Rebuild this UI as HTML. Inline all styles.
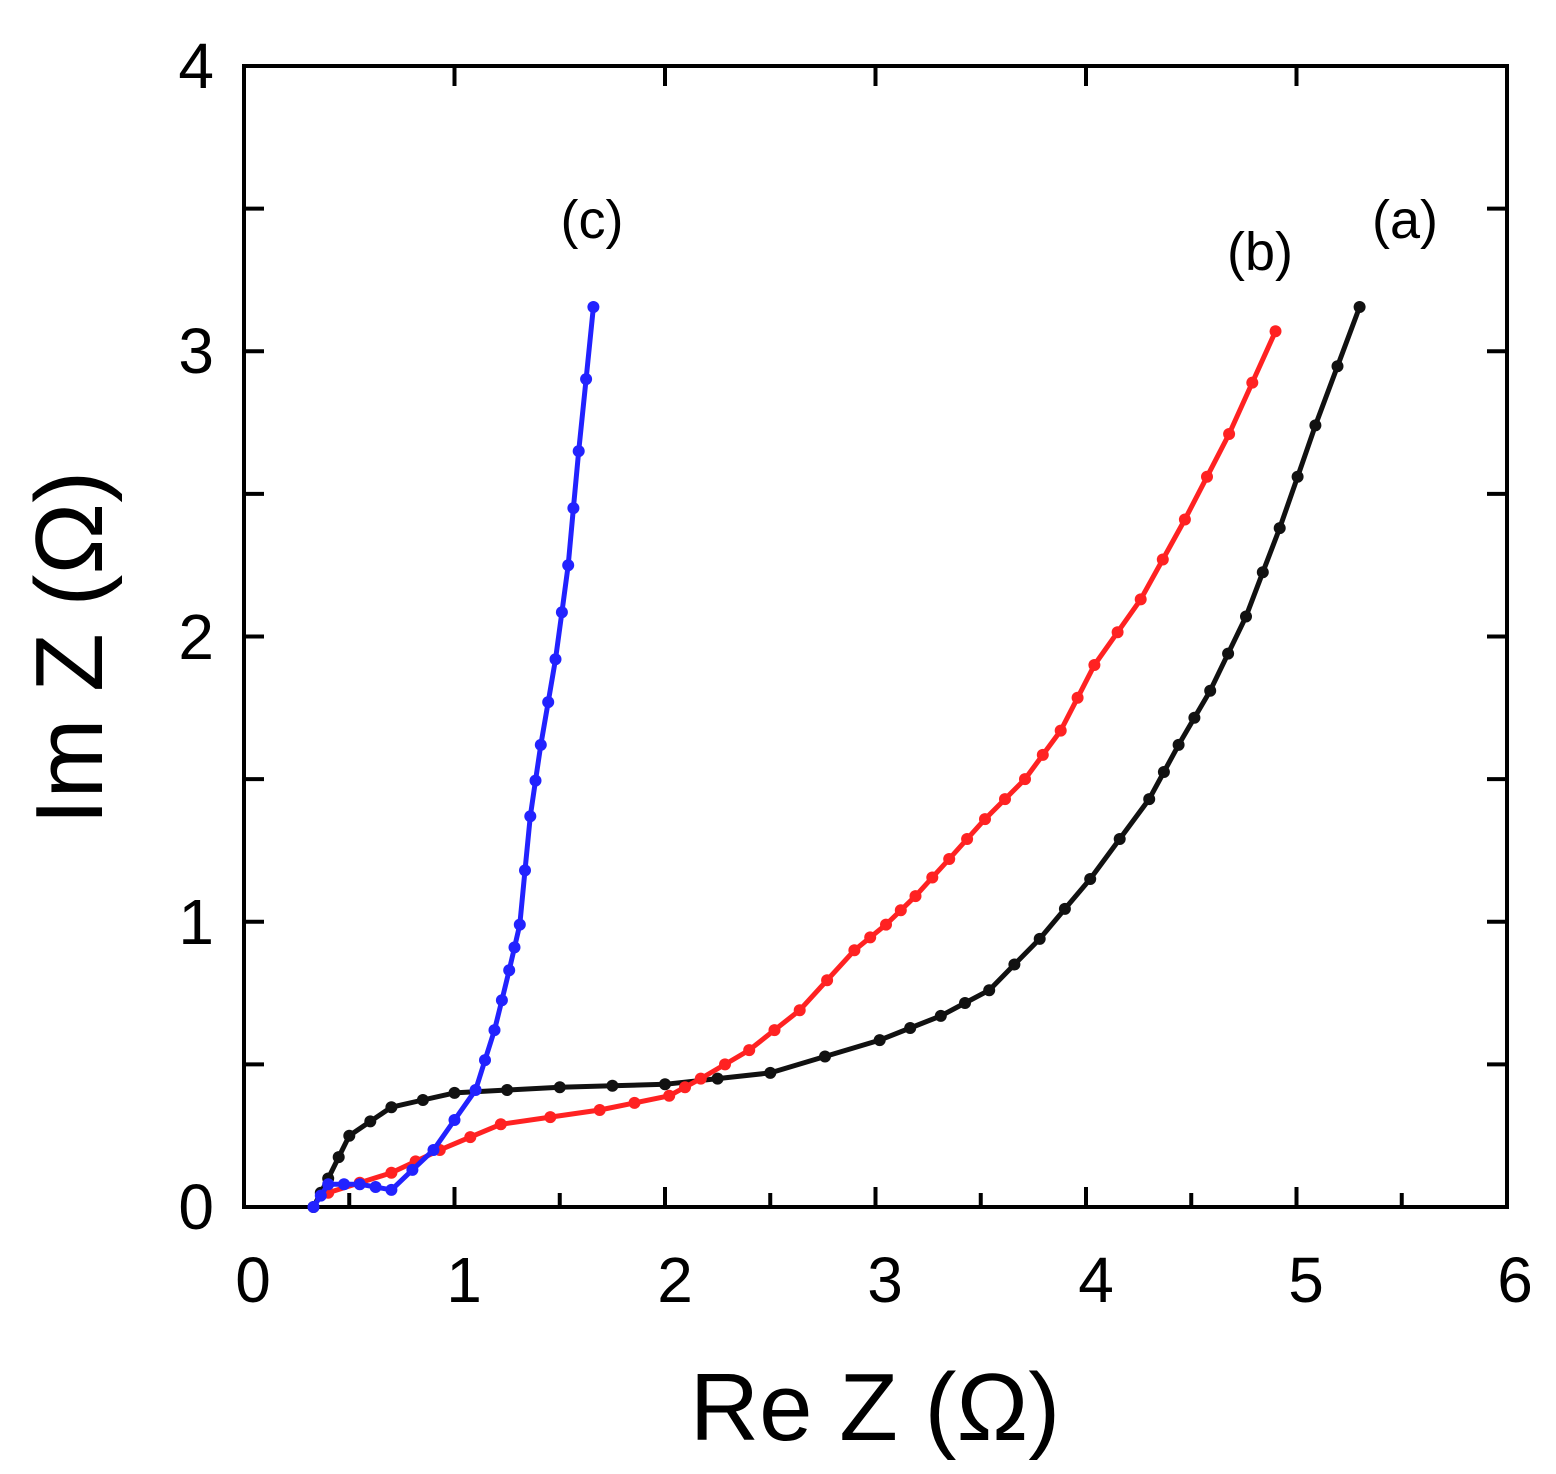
<!DOCTYPE html>
<html><head><meta charset="utf-8"><style>
html,body{margin:0;padding:0;background:#fff;}
svg{display:block;}
text{font-family:"Liberation Sans",sans-serif;fill:#000;}
</style></head><body>
<svg id="s" width="1556" height="1474" viewBox="0 0 1556 1474" xmlns="http://www.w3.org/2000/svg">
<rect x="244" y="66" width="1263" height="1141" fill="none" stroke="#000" stroke-width="4"/>
<g id="ticks" stroke="#000" stroke-width="4"></g>
<g id="series"></g>
<g font-size="64" text-anchor="middle">
<text x="253" y="1302">0</text><text x="464" y="1302">1</text><text x="675" y="1302">2</text>
<text x="885" y="1302">3</text><text x="1096" y="1302">4</text><text x="1306" y="1302">5</text><text x="1515" y="1302">6</text>
</g>
<g font-size="64" text-anchor="end">
<text x="214" y="1229">0</text><text x="214" y="944">1</text><text x="214" y="659">2</text>
<text x="214" y="373">3</text><text x="214" y="88">4</text>
</g>
<text x="875" y="1440" font-size="96" text-anchor="middle">Re Z (Ω)</text>
<text transform="translate(102,648) rotate(-90)" font-size="96" text-anchor="middle">Im Z (Ω)</text>
<g font-size="54" text-anchor="middle">
<text x="592" y="238">(c)</text><text x="1260" y="270">(b)</text><text x="1405" y="238">(a)</text>
</g>
</svg>
<script>
var X=function(v){return 244+v*210.5},Y=function(v){return 1207-v*285.25};
var t='';
for(var i=1;i<12;i++){var x=X(i*0.5);t+='<line x1="'+x+'" y1="1207" x2="'+x+'" y2="'+(i%2?1193:1187)+'"/>';if(i%2==0)t+='<line x1="'+x+'" y1="66" x2="'+x+'" y2="86"/>';}
for(var i=1;i<8;i++){var y=Y(i*0.5);t+='<line x1="244" y1="'+y+'" x2="264" y2="'+y+'"/><line x1="1507" y1="'+y+'" x2="1487" y2="'+y+'"/>';}
document.getElementById('ticks').innerHTML=t;
function interp(pts,n){var out=[];for(var i=0;i<pts.length-1;i++){for(var k=0;k<n;k++){var f=k/n;out.push([pts[i][0]+(pts[i+1][0]-pts[i][0])*f,pts[i][1]+(pts[i+1][1]-pts[i][1])*f]);}}out.push(pts[pts.length-1]);return out;}
var A=[[0.33,0],[0.4,0.1],[0.5,0.25],[0.7,0.35],[1,0.4],[1.5,0.42],[2,0.43],[2.5,0.47],[3.02,0.585],[3.31,0.67],[3.54,0.76],[3.78,0.94],[4.02,1.15],[4.3,1.43],[4.44,1.62],[4.59,1.81],[4.76,2.07],[4.92,2.38],[5.09,2.74],[5.3,3.155]];
var B=[[0.4,0.05],[0.7,0.12],[0.93,0.2],[1.22,0.29],[1.69,0.34],[2.02,0.39],[2.17,0.45],[2.4,0.55],[2.64,0.69],[2.9,0.9],[3.05,0.99],[3.19,1.09],[3.35,1.22],[3.52,1.36],[3.71,1.5],[3.88,1.67],[4.04,1.9],[4.26,2.13],[4.47,2.41],[4.68,2.71],[4.9,3.07]];
var C=[[0.33,0],[0.4,0.08],[0.55,0.08],[0.7,0.06],[0.9,0.2],[1.1,0.41],[1.19,0.62],[1.26,0.83],[1.31,0.99],[1.36,1.37],[1.41,1.62],[1.48,1.92],[1.54,2.25],[1.59,2.65],[1.66,3.155]];
var s='';
[[A,'#111',2],[B,'#f22',2],[C,'#22f',2]].forEach(function(c){
 var p=interp(c[0],c[2]);var d=p.map(function(q){return X(q[0]).toFixed(1)+','+Y(q[1]).toFixed(1)}).join(' ');
 s+='<polyline points="'+d+'" fill="none" stroke="'+c[1]+'" stroke-width="5" stroke-linejoin="round"/>';
 p.forEach(function(q){s+='<circle cx="'+X(q[0]).toFixed(1)+'" cy="'+Y(q[1]).toFixed(1)+'" r="6" fill="'+c[1]+'"/>';});
});
document.getElementById('series').innerHTML=s;
</script>
</body></html>
